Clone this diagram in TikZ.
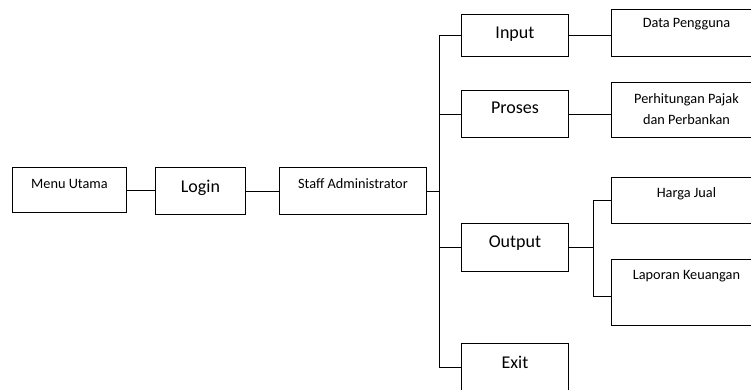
\documentclass[tikz,border=0pt]{standalone}
\usepackage{fontspec}
\setmainfont{Carlito}
\usepackage{tikz}
\usetikzlibrary{positioning}

\begin{document}
\begin{tikzpicture}[
  x=1pt, y=-1pt,
  line width=0.9pt,
  box/.style={rectangle, draw, inner sep=0pt, anchor=north west, align=center},
  small/.style={box, font=\fontsize{14.3}{21}\selectfont},
  big/.style={box, font=\fontsize{18}{22}\selectfont},
  link/.style={draw, line width=0.9pt}
]
  \useasboundingbox (0,0) rectangle (751,389);
  \clip (0,0) rectangle (751,389);

  % main row
  \node[small, minimum width=114, text height=21, text depth=24] (menu) at (12,167) {Menu Utama};
  \node[big, minimum width=90, text height=25, text depth=22] (login) at (155,167) {Login};
  \node[small, minimum width=147, text height=21, text depth=26] (staff) at (279,167) {Staff Administrator};

  % menu items
  \node[big, minimum width=107, text height=24, text depth=18] (input) at (461,14) {Input};
  \node[big, minimum width=107, text height=23, text depth=24] (proses) at (461,90) {Proses};
  \node[big, minimum width=107, text height=24, text depth=24] (output) at (461,223) {Output};
  \node[big, minimum width=107, text height=25, text depth=23] (exit) at (461,343) {Exit};

  % sub items
  \node[small, minimum width=150, text height=18, text depth=29] (data) at (611,9) {Data Pengguna};
  \node[small, minimum width=150, text height=42, text depth=13] (pajak) at (611,82) {Perhitungan Pajak\\dan Perbankan};
  \node[small, minimum width=150, text height=20, text depth=26] (harga) at (611,177) {Harga Jual};
  \node[small, minimum width=150, text height=20, text depth=46] (laporan) at (611,259) {Laporan Keuangan};

  \coordinate (trunk) at (439,188);
  \coordinate (fork) at (593,249);

  \draw[link] (menu.east) -- (menu.east -| login.west);
  \draw[link] (login.east) -- (login.east -| staff.west);
  \draw[link] (staff.east) -- (staff.east -| trunk);
  \draw[link] (input.west) -- (input.west -| trunk) -- (exit.west -| trunk) -- (exit.west);
  \draw[link] (proses.west) -- (proses.west -| trunk);
  \draw[link] (output.west) -- (output.west -| trunk);

  \draw[link] (input.east) -- (input.east -| data.west);
  \draw[link] (proses.east) -- (proses.east -| pajak.west);
  \draw[link] (output.east) -- (output.east -| fork);
  \draw[link] (harga.west) -- (harga.west -| fork) -- ([yshift=-4]laporan.west -| fork) -- ([yshift=-4]laporan.west);
\end{tikzpicture}
\end{document}
